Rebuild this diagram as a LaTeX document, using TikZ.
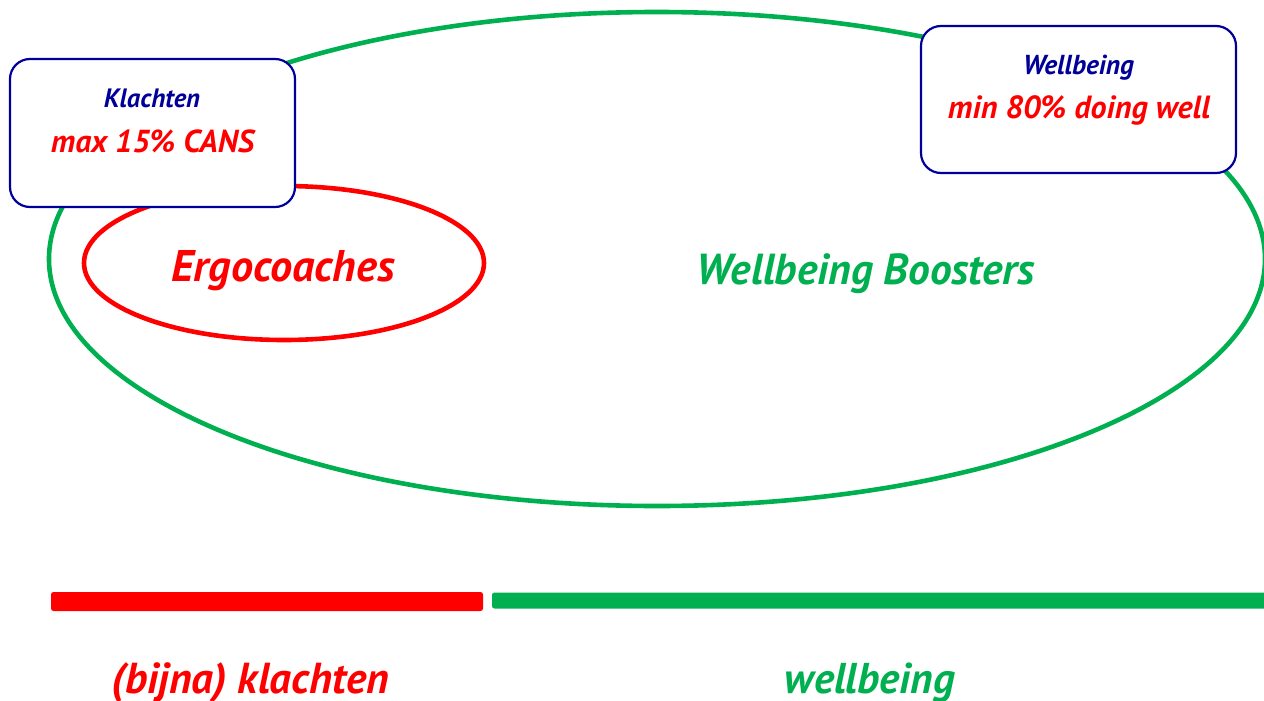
\documentclass[tikz,border=0pt]{standalone}
\usepackage{fontspec}
\setmainfont{PT Sans}
\usetikzlibrary{shapes.geometric}
\definecolor{navyblue}{RGB}{0,0,153}
\definecolor{boostgreen}{RGB}{0,176,80}
\definecolor{alertred}{RGB}{255,0,0}
\newcommand{\fitw}[2]{\resizebox{#1pt}{!}{\bfseries\itshape #2}}
\begin{document}
\begin{tikzpicture}[x=1pt,y=-1pt,
  ring/.style={draw, ellipse, line width=4.6pt, inner sep=0pt},
  goalbox/.style={draw=navyblue, fill=white, line width=2.2pt, rounded corners=20pt, inner sep=0pt},
  lbl/.style={inner sep=0pt, anchor=base},
  bar/.style={rounded corners=2.5pt, inner sep=0pt, draw=none}]
\useasboundingbox (0,0) rectangle (1264,701);

% outer group and the inner group
\node[ring, draw=boostgreen, minimum width=1216pt, minimum height=494pt] (wb) at (657,259) {};
\node[ring, draw=alertred, minimum width=400pt, minimum height=154pt] (ergo) at (284,263) {};

\node[lbl, text=alertred] (ergot) at (283,281) {\fitw{223}{Ergocoaches}};
\node[lbl, text=boostgreen] (wbt) at (866,284) {\fitw{338}{Wellbeing Boosters}};

% target boxes
\node[goalbox, minimum width=285pt, minimum height=148pt] (kbox) at (152.5,133) {};
\node[lbl, text=navyblue] (kt) at (152,107) {\fitw{96}{Klachten}};
\node[lbl, text=alertred] (kv) at (152.5,152) {\fitw{203}{max 15\% CANS}};

\node[goalbox, minimum width=315pt, minimum height=147pt] (wbox) at (1078.5,99.5) {};
\node[lbl, text=navyblue] (wt) at (1078.5,75) {\fitw{111}{Wellbeing}};
\node[lbl, text=alertred] (wv) at (1079,119) {\fitw{262}{min 80\% doing well}};

% scale bars
\node[bar, fill=alertred, minimum width=432pt, minimum height=19pt] (rbar) at (267,601.5) {};
\node[bar, fill=boostgreen, minimum width=776pt, minimum height=16pt] (gbar) at (880,600.5) {};

\node[lbl, text=alertred] (rl) at (250.5,693) {\fitw{277}{(bijna) klachten}};
\node[lbl, text=boostgreen] (gl) at (870,693) {\fitw{170}{wellbeing}};
\end{tikzpicture}
\end{document}
